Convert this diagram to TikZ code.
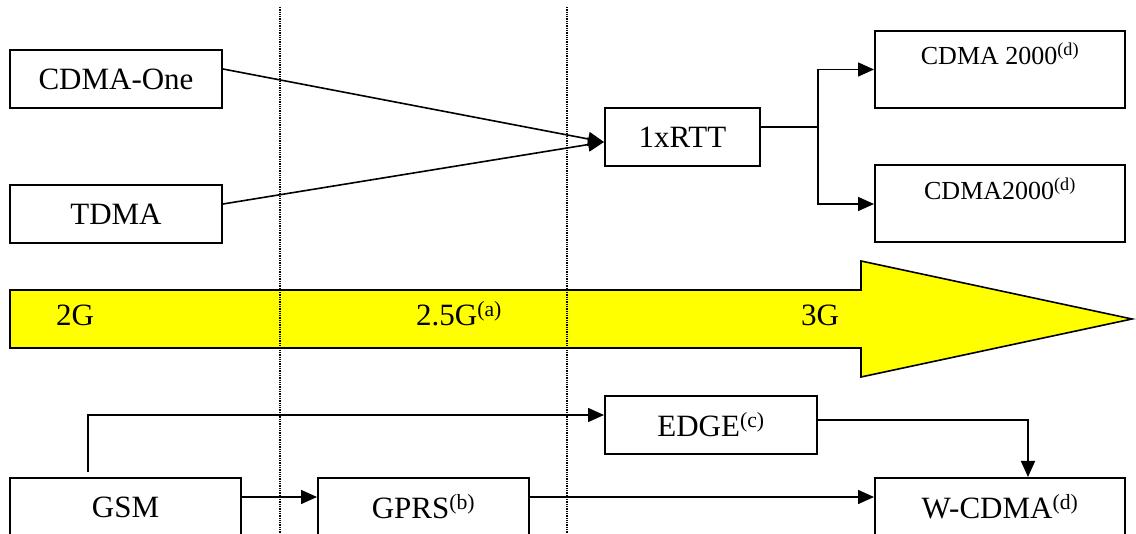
\documentclass[tikz,border=0pt]{standalone}
\usepackage{fontspec}
\setmainfont{Liberation Serif}
\usepackage{xcolor}
\usepackage{tikz}
\usetikzlibrary{arrows.meta, positioning}

\definecolor{bandyellow}{RGB}{255,255,0}

\tikzset{
  gen/.style={draw, line width=2pt, inner sep=0pt, minimum height=58pt, font=\fontsize{31}{36}\selectfont},
  topbox/.style={draw, line width=2pt, inner sep=0pt, minimum width=250pt, text height=34pt, text depth=43pt, font=\fontsize{26}{30}\selectfont},
  era/.style={anchor=base west, inner sep=0pt, font=\fontsize{31}{36}\selectfont},
  link/.style={->, line width=1.6pt},
  border/.style={densely dotted, line width=1.3pt}
}

\begin{document}
\begin{tikzpicture}[x=1pt, y=-1pt, on grid, >={Triangle[length=16pt,width=14pt]}]
        \useasboundingbox (0,0) rectangle (1136,534);
        \clip (0,0) rectangle (1136,534);

        \draw[fill=bandyellow, line width=1.6pt] (10,290) -- (861,290) -- (861,261) -- (1132,319)
             -- (861,377) -- (861,348) -- (10,348) -- cycle;
        \node[era] (g2)  at (56,326)  {2G};
        \node[era] (g25) at (416,326) {2.5G\textsuperscript{(a)}};
        \node[era] (g3)  at (801,326) {3G};

        \coordinate (d1top) at (280,7);
        \coordinate (d1bot) at (280,534);
        \coordinate (d2top) at (567,7);
        \coordinate (d2bot) at (567,534);
        \draw[border] (d1top) -- (d1bot);
        \draw[border] (d2top) -- (d2bot);

        \node[gen, minimum width=212pt] (cdmaone) at (116,79) {CDMA-One};
        \node[gen, minimum width=212pt] (tdma) [below=135pt of cdmaone] {TDMA};
        \node[gen, minimum width=155pt] (rtt) at (682.5,137) {1xRTT};
        \node[topbox] (cdmaa) at (1000,69.5) {CDMA 2000\textsuperscript{(d)}};
        \node[topbox] (cdmab) [below=134.5pt of cdmaa] {CDMA2000\textsuperscript{(d)}};

        \node[gen, minimum width=212pt] (edge) at (711,425) {EDGE\textsuperscript{(c)}};
        \node[gen, minimum width=231pt] (gsm) at (125.5,507) {GSM};
        \node[gen, minimum width=211pt] (gprs) [right=298pt of gsm] {GPRS\textsuperscript{(b)}};
        \node[gen, minimum width=250pt] (wcdma) at (1000,507) {W-CDMA\textsuperscript{(d)}};

        \coordinate (fork) at ([xshift=57pt, yshift=10pt]rtt.east);
        \coordinate (gsmup) at ([xshift=-37.5pt, yshift=5pt]gsm.north);

        \path[link]
        ([yshift=10pt]cdmaone.east) edge ([yshift=-5pt]rtt.west)
        ([yshift=10pt]tdma.east) edge ([yshift=-5pt]rtt.west)
        ([yshift=10pt]gsm.east) edge ([yshift=10pt]gprs.west)
        ([yshift=10pt]gprs.east) edge ([yshift=10pt]wcdma.west);

        \draw[link] ([yshift=10pt]rtt.east) -- (fork) |- (cdmaa.west);
        \draw[link] (fork) |- (cdmab.west);
        \draw[link] (gsmup) |- ([yshift=10pt]edge.west);
        \draw[link] ([yshift=5pt]edge.east) -| ([xshift=28pt]wcdma.north);
    \end{tikzpicture}
\end{document}
